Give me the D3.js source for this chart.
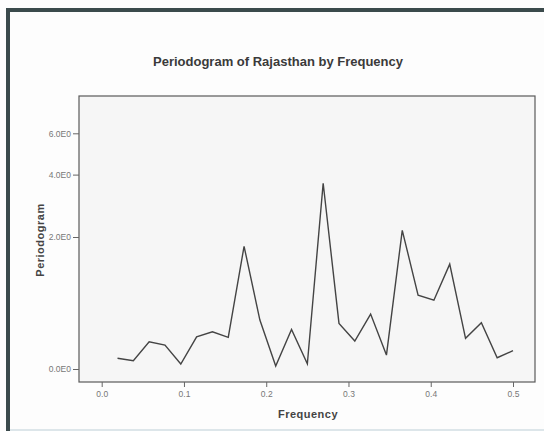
<!DOCTYPE html>
<html>
<head>
<meta charset="utf-8">
<script src="https://cdn.jsdelivr.net/npm/d3@7"></script>
<style>
  body { margin: 0; background: #fdfdfd; }
  svg { display: block; font-family: "Liberation Sans", Arial, sans-serif; }
</style>
</head>
<body>
<div class="container"></div>
<script>
// periodogram values, frequency = k/52
const frequencies = d3.range(1, 27).map(k => k / 52);
const periodogram = [0.095, 0.073, 0.258, 0.224, 0.043, 0.312, 0.368, 0.306, 1.78, 0.509,
  0.026, 0.396, 0.046, 3.66, 0.468, 0.266, 0.586, 0.125, 2.17, 0.857,
  0.781, 1.40, 0.295, 0.475, 0.100, 0.167];
const xTicks = [0, 0.1, 0.2, 0.3, 0.4, 0.5];
const yTicks = [0, 2, 4, 6];

const W = 544, H = 431;
const plot = {left: 79, right: 535, top: 96, bottom: 382};

const svg = d3.select(".container")
    .append("svg")
    .attr("width", W)
    .attr("height", H);

// outer frame (dark border at left and top)
svg.append("rect").attr("x", 0).attr("y", 0).attr("width", W).attr("height", H).attr("fill", "#fdfdfd");
svg.append("rect").attr("x", 6).attr("y", 8).attr("width", W - 6).attr("height", 4).attr("fill", "#3b4a4c");
svg.append("rect").attr("x", 6).attr("y", 8).attr("width", 4).attr("height", H - 8).attr("fill", "#3b4a4c");
svg.append("rect").attr("x", 10).attr("y", H - 2).attr("width", W - 10).attr("height", 2).attr("fill", "#dde6ea");

// plot area
svg.append("rect")
    .attr("x", plot.left).attr("y", plot.top)
    .attr("width", plot.right - plot.left)
    .attr("height", plot.bottom - plot.top)
    .attr("fill", "#f6f6f6")
    .attr("stroke", "#5a5a5a")
    .attr("stroke-width", 1.2);

const x = d3.scaleLinear()
    .domain([0, 0.5])
    .range([101.7, 513]);

const y = d3.scaleSymlog()
    .constant(1.05)
    .domain([0, 6])
    .range([369, 133.3]);

// title
svg.append("text")
    .attr("x", 278)
    .attr("y", 66)
    .attr("text-anchor", "middle")
    .attr("font-size", "13px")
    .attr("font-weight", "bold")
    .attr("fill", "#3a3a3a")
    .text("Periodogram of Rajasthan by Frequency");

// x axis
const xAxis = d3.axisBottom(x)
    .tickValues(xTicks)
    .tickSize(5)
    .tickPadding(4)
    .tickFormat(d3.format(".1f"));
const gx = svg.append("g")
    .attr("transform", `translate(0, ${plot.bottom})`)
    .call(xAxis);
gx.select(".domain").remove();
gx.selectAll("line").attr("stroke", "#666");
gx.selectAll("text").attr("font-size", "8.5px").attr("fill", "#777");

svg.append("text")
    .attr("x", 308)
    .attr("y", 418)
    .attr("text-anchor", "middle")
    .attr("font-size", "11px")
    .attr("font-weight", "bold")
    .attr("fill", "#444")
    .attr("letter-spacing", "0.5px")
    .text("Frequency");

// y axis
const yAxis = d3.axisLeft(y)
    .tickValues(yTicks)
    .tickSize(6)
    .tickPadding(2)
    .tickFormat(d => d.toFixed(1) + "E0");
const gy = svg.append("g")
    .attr("transform", `translate(${plot.left}, 0)`)
    .call(yAxis);
gy.select(".domain").remove();
gy.selectAll("line").attr("stroke", "#666");
gy.selectAll("text").attr("font-size", "8.5px").attr("fill", "#777");

svg.append("text")
    .attr("transform", "translate(44, 240) rotate(-90)")
    .attr("text-anchor", "middle")
    .attr("font-size", "11px")
    .attr("font-weight", "bold")
    .attr("fill", "#444")
    .attr("letter-spacing", "0.5px")
    .text("Periodogram");

// periodogram line
const line = d3.line()
    .x((d, i) => x(frequencies[i]))
    .y(d => y(d));

svg.append("path")
    .datum(periodogram)
    .attr("fill", "none")
    .attr("stroke", "#444")
    .attr("stroke-width", 1.4)
    .attr("stroke-linejoin", "miter")
    .attr("d", line);
</script>
</body>
</html>
